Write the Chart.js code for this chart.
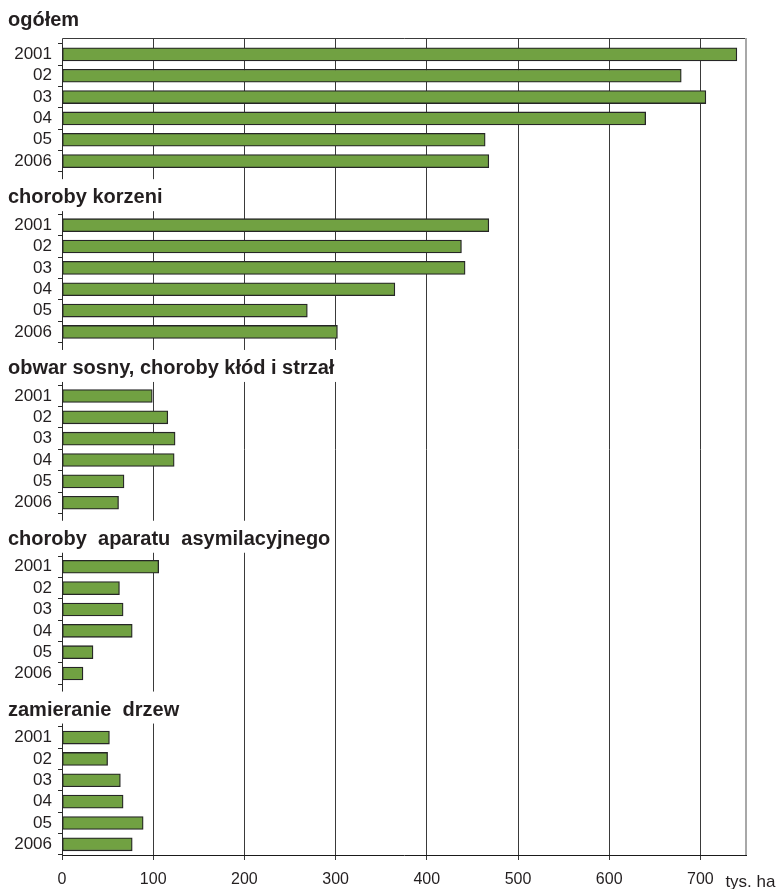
<!DOCTYPE html>
<html>
<head>
<meta charset="utf-8">
<script src="https://cdn.jsdelivr.net/npm/chart.js@4/dist/chart.umd.min.js"></script>
<style>
html,body{margin:0;padding:0;background:#fff;}
#wrap{position:relative;width:779px;height:889px;}
</style>
</head>
<body>
<div id="wrap"><canvas id="c" width="779" height="889"></canvas></div>
<script>
// ---- data ----
const groupTitles = ["ogółem", "choroby korzeni", "obwar sosny, choroby kłód i strzał", "choroby  aparatu  asymilacyjnego", "zamieranie  drzew"];
const yearLabels = ["2001", "02", "03", "04", "05", "2006"];
const ogolem = [740, 679, 706, 640, 464, 468];
const chorobyKorzeni = [468, 438, 442, 365, 269, 302];
const obwarSosny = [99, 116, 124, 123, 68, 62];
const chorobyAparatu = [106, 63, 67, 77, 34, 23];
const zamieranieDrzew = [52, 50, 64, 67, 89, 77];
const xTicks = [0, 100, 200, 300, 400, 500, 600, 700];
const unitLabel = "tys. ha";

const groups = [ogolem, chorobyKorzeni, obwarSosny, chorobyAparatu, zamieranieDrzew];
const GAP = 2;

// build categories with gap slots between groups
const labels = [];
const values = [];
const gapStarts = [];
groups.forEach((g, gi) => {
  if (gi > 0) {
    gapStarts.push(labels.length);
    for (let k = 0; k < GAP; k++) { labels.push(""); values.push(null); }
  }
  g.forEach((v, i) => { labels.push(yearLabels[i]); values.push(v); });
});

const FONT = "'Liberation Sans', Arial, Helvetica, sans-serif";
const align = (p) => Math.round(p - 0.5) + 0.5;

const framePlugin = {
  id: 'frame',
  beforeDatasetsDraw(chart) {
    const ctx = chart.ctx, a = chart.chartArea, xs = chart.scales.x;
    const topY = Math.round(a.top - 6) + 0.5;
    ctx.save();
    ctx.strokeStyle = '#3a3a3a';
    ctx.lineWidth = 1;
    xTicks.forEach(t => {
      const px = align(xs.getPixelForValue(t));
      ctx.beginPath(); ctx.moveTo(px, topY); ctx.lineTo(px, a.top + 1); ctx.stroke();
    });
    ctx.beginPath(); ctx.moveTo(align(a.left), topY); ctx.lineTo(a.right, topY); ctx.stroke();
    ctx.strokeStyle = '#a8a8a8';
    ctx.lineWidth = 2;
    ctx.beginPath(); ctx.moveTo(a.right, topY - 0.5); ctx.lineTo(a.right, a.bottom); ctx.stroke();
    ctx.restore();
  },
  afterDraw(chart) {
    const ctx = chart.ctx, ys = chart.scales.y, xs = chart.scales.x;
    ctx.save();
    ctx.font = "bold 20px " + FONT;
    ctx.textBaseline = 'alphabetic';
    ctx.textAlign = 'left';
    groupTitles.forEach((title, gi) => {
      let base;
      if (gi === 0) {
        base = 26;
      } else {
        const idx = gapStarts[gi - 1];
        const center = (ys.getPixelForValue(idx) + ys.getPixelForValue(idx + GAP - 1)) / 2;
        base = center + 10;
        const w = ctx.measureText(title).width;
        ctx.fillStyle = '#ffffff';
        ctx.fillRect(0, base - 24, 8 + w + 4, 32);
      }
      ctx.fillStyle = '#231f20';
      ctx.fillText(title, 8, base);
    });
    ctx.font = "17px " + FONT;
    ctx.fillStyle = '#231f20';
    ctx.textBaseline = 'middle';
    ctx.fillText(unitLabel, xs.getPixelForValue(700) + 25, 882);
    ctx.restore();
  }
};

new Chart(document.getElementById('c'), {
  type: 'bar',
  data: {
    labels: labels,
    datasets: [{
      data: values,
      backgroundColor: '#71a142',
      borderColor: '#262626',
      borderWidth: 1.3,
      borderSkipped: false,
      barThickness: 13
    }]
  },
  options: {
    indexAxis: 'y',
    responsive: false,
    animation: false,
    devicePixelRatio: 1,
    layout: { padding: { top: 43.7, right: 33, bottom: 0, left: 0 } },
    plugins: { legend: { display: false }, tooltip: { enabled: false } },
    scales: {
      x: {
        type: 'linear',
        min: 0,
        max: 750,
        afterBuildTicks(s) { s.ticks = xTicks.concat([750]).map(v => ({ value: v })); },
        afterFit(s) { s.height = 34; },
        grid: {
          color: (c) => c.tick && c.tick.value === 750 ? 'rgba(0,0,0,0)' : '#3a3a3a',
          lineWidth: 1,
          tickLength: 5,
          drawOnChartArea: true
        },
        border: { display: true, color: '#1a1a1a', width: 1 },
        ticks: {
          font: { family: FONT, size: 16 },
          color: '#231f20',
          padding: 10,
          maxRotation: 0,
          autoSkip: false,
          callback: (v) => (v === 750 ? '' : String(v))
        }
      },
      y: {
        type: 'category',
        offset: true,
        afterFit(s) { s.width = 62; },
        grid: {
          offset: true,
          drawOnChartArea: false,
          tickLength: 4,
          color: '#2a2a2a',
          lineWidth: 1
        },
        border: { display: true, color: '#2a2a2a', width: 1 },
        ticks: {
          font: { family: FONT, size: 17 },
          color: '#231f20',
          padding: 6,
          autoSkip: false
        }
      }
    }
  },
  plugins: [framePlugin]
});
</script>
</body>
</html>
